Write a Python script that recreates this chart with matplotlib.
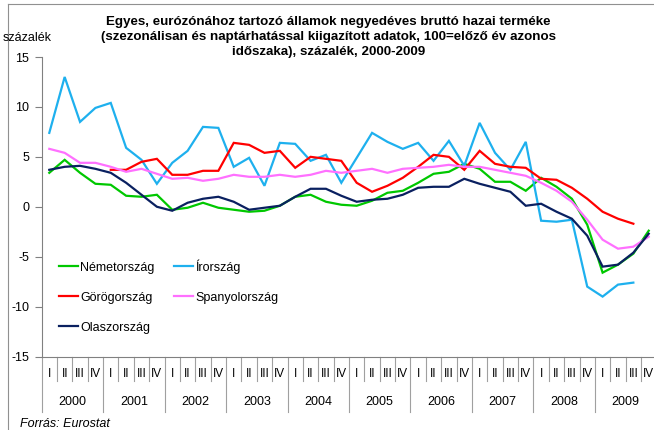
import numpy as np
import matplotlib
matplotlib.use('Agg')
import matplotlib.pyplot as plt
from matplotlib.lines import Line2D
import matplotlib.transforms as mtransforms

plt.rcParams['font.family'] = ['Liberation Sans', 'DejaVu Sans']

nan = np.nan
years = ['2000', '2001', '2002', '2003', '2004', '2005', '2006', '2007', '2008', '2009']
quarters = ['I', 'II', 'III', 'IV']

nemetorszag = [3.4, 4.7, 3.4, 2.3, 2.2, 1.1, 1.0, 1.2, -0.3, -0.1,
               0.4, -0.1, -0.3, -0.5, -0.4, 0.1, 1.0, 1.2, 0.5, 0.2,
               0.1, 0.6, 1.4, 1.6, 2.4, 3.3, 3.5, 4.3, 3.8, 2.5,
               2.5, 1.6, 2.9, 2.0, 0.8, -1.8, -6.6, -5.8, -4.7, -2.4]
irorszag = [7.4, 13.0, 8.5, 9.9, 10.4, 5.9, 4.7, 2.3, 4.4, 5.6,
            8.0, 7.9, 4.0, 4.9, 2.1, 6.4, 6.3, 4.6, 5.2, 2.4,
            4.9, 7.4, 6.5, 5.8, 6.4, 4.6, 6.6, 4.1, 8.4, 5.4,
            3.7, 6.5, -1.4, -1.5, -1.3, -8.0, -9.0, -7.8, -7.6, nan]
gorogorszag = [nan, nan, nan, nan, 3.7, 3.7, 4.5, 4.8, 3.2, 3.2,
               3.6, 3.6, 6.4, 6.2, 5.4, 5.6, 3.9, 5.0, 4.8, 4.6,
               2.4, 1.5, 2.1, 2.9, 4.0, 5.2, 5.0, 3.7, 5.6, 4.3,
               4.0, 3.9, 2.8, 2.7, 1.9, 0.8, -0.5, -1.2, -1.7, nan]
spanyolorszag = [5.8, 5.4, 4.4, 4.4, 4.0, 3.5, 3.8, 3.3, 2.8, 2.9,
                 2.6, 2.8, 3.2, 3.0, 3.0, 3.2, 3.0, 3.2, 3.6, 3.4,
                 3.6, 3.8, 3.4, 3.8, 3.9, 4.0, 4.2, 4.0, 4.0, 3.7,
                 3.4, 3.1, 2.4, 1.6, 0.5, -1.3, -3.3, -4.2, -4.0, -3.0]
olaszorszag = [3.7, 4.0, 4.1, 3.8, 3.4, 2.4, 1.2, 0.0, -0.4, 0.4,
               0.8, 1.0, 0.5, -0.3, -0.1, 0.1, 1.0, 1.8, 1.8, 1.1,
               0.5, 0.7, 0.8, 1.2, 1.9, 2.0, 2.0, 2.8, 2.3, 1.9,
               1.5, 0.1, 0.3, -0.5, -1.2, -2.9, -6.0, -5.8, -4.6, -2.7]

series = [
    ('Németország', nemetorszag, '#00C800'),
    ('Írország', irorszag, '#1EB0EE'),
    ('Görögország', gorogorszag, '#FF0000'),
    ('Spanyolország', spanyolorszag, '#FF70FF'),
    ('Olaszország', olaszorszag, '#0A2060'),
]

W, H = 654, 430
fig = plt.figure(figsize=(W / 100, H / 100), dpi=100)
fig.patch.set_facecolor('white')

ax_left, ax_right, ax_top, ax_bot = 41.6, 656.4, 57.0, 356.5
ax = fig.add_axes([ax_left / W, 1 - ax_bot / H, (ax_right - ax_left) / W, (ax_bot - ax_top) / H])

n = len(years) * len(quarters)
x = np.arange(n)
handles = {}
for name, vals, col in series:
    h, = ax.plot(x, np.array(vals, dtype=float), color=col, lw=1.6, label=name,
                 solid_joinstyle='miter')
    handles[name] = h

ax.set_xlim(-0.5, n - 0.5)
ax.set_ylim(-15, 15)
ax.set_yticks(np.arange(-15, 16, 5))
ax.set_yticklabels([str(v) for v in range(-15, 16, 5)])
ax.tick_params(axis='y', length=5, width=0.8, color='#808080', labelsize=9, pad=4)
ax.set_xticks([])
for s in ['top', 'right']:
    ax.spines[s].set_visible(False)
for s in ['left', 'bottom']:
    ax.spines[s].set_color('#808080')
    ax.spines[s].set_linewidth(0.8)

# category separators and labels
trans = mtransforms.blended_transform_factory(ax.transData, fig.transFigure)
y_axis_fig = 1 - ax_bot / H
y_q_end = 1 - 381 / H
y_y_end = 1 - 412 / H
for k in range(n + 1):
    xe = k - 0.5
    yend = y_y_end if k % 4 == 0 else y_q_end
    ax.add_line(Line2D([xe, xe], [y_axis_fig, yend], transform=trans, color='#A0A0A0',
                       lw=0.8, clip_on=False))
for k in range(n):
    ax.text(x[k], 1 - 374 / H, quarters[k % 4], transform=trans, ha='center', va='center',
            fontsize=8.5, clip_on=False)
for j, yr in enumerate(years):
    ax.text(4 * j + 1.5, 1 - 402 / H, yr, transform=trans, ha='center', va='center',
            fontsize=9, clip_on=False)

order = ['Németország', 'Görögország', 'Olaszország', 'Írország', 'Spanyolország']
leg = ax.legend([handles[o] for o in order], order, ncol=2, frameon=False,
                loc='upper left', bbox_to_anchor=(59 / W, 1 - 259 / H),
                bbox_transform=fig.transFigure, fontsize=9, handlelength=1.55,
                handletextpad=0.15, labelspacing=1.45, columnspacing=1.55,
                borderpad=0, borderaxespad=0)

# titles and texts
fig.text(0.502, 1 - 37 / H,
         'Egyes, eurózónához tartozó államok negyedéves bruttó hazai terméke\n'
         '(szezonálisan és naptárhatással kiigazított adatok, 100=előző év azonos\n'
         'időszaka), százalék, 2000-2009',
         ha='center', va='center', fontsize=9.6, fontweight='bold', linespacing=1.3)
fig.text(3 / W, 1 - 38 / H, 'százalék', ha='left', va='center', fontsize=9)
fig.text(20 / W, 1 - 424 / H, 'Forrás: Eurostat', ha='left', va='center', fontsize=9,
         style='italic')

# outer frame
fig.add_artist(Line2D([8 / W, 1], [1 - 4 / H, 1 - 4 / H], transform=fig.transFigure,
                      color='#909090', lw=0.8))
fig.add_artist(Line2D([8 / W, 8 / W], [0, 1 - 4 / H], transform=fig.transFigure,
                      color='#909090', lw=0.8))

fig.savefig('out.png', dpi=100, facecolor='white')
